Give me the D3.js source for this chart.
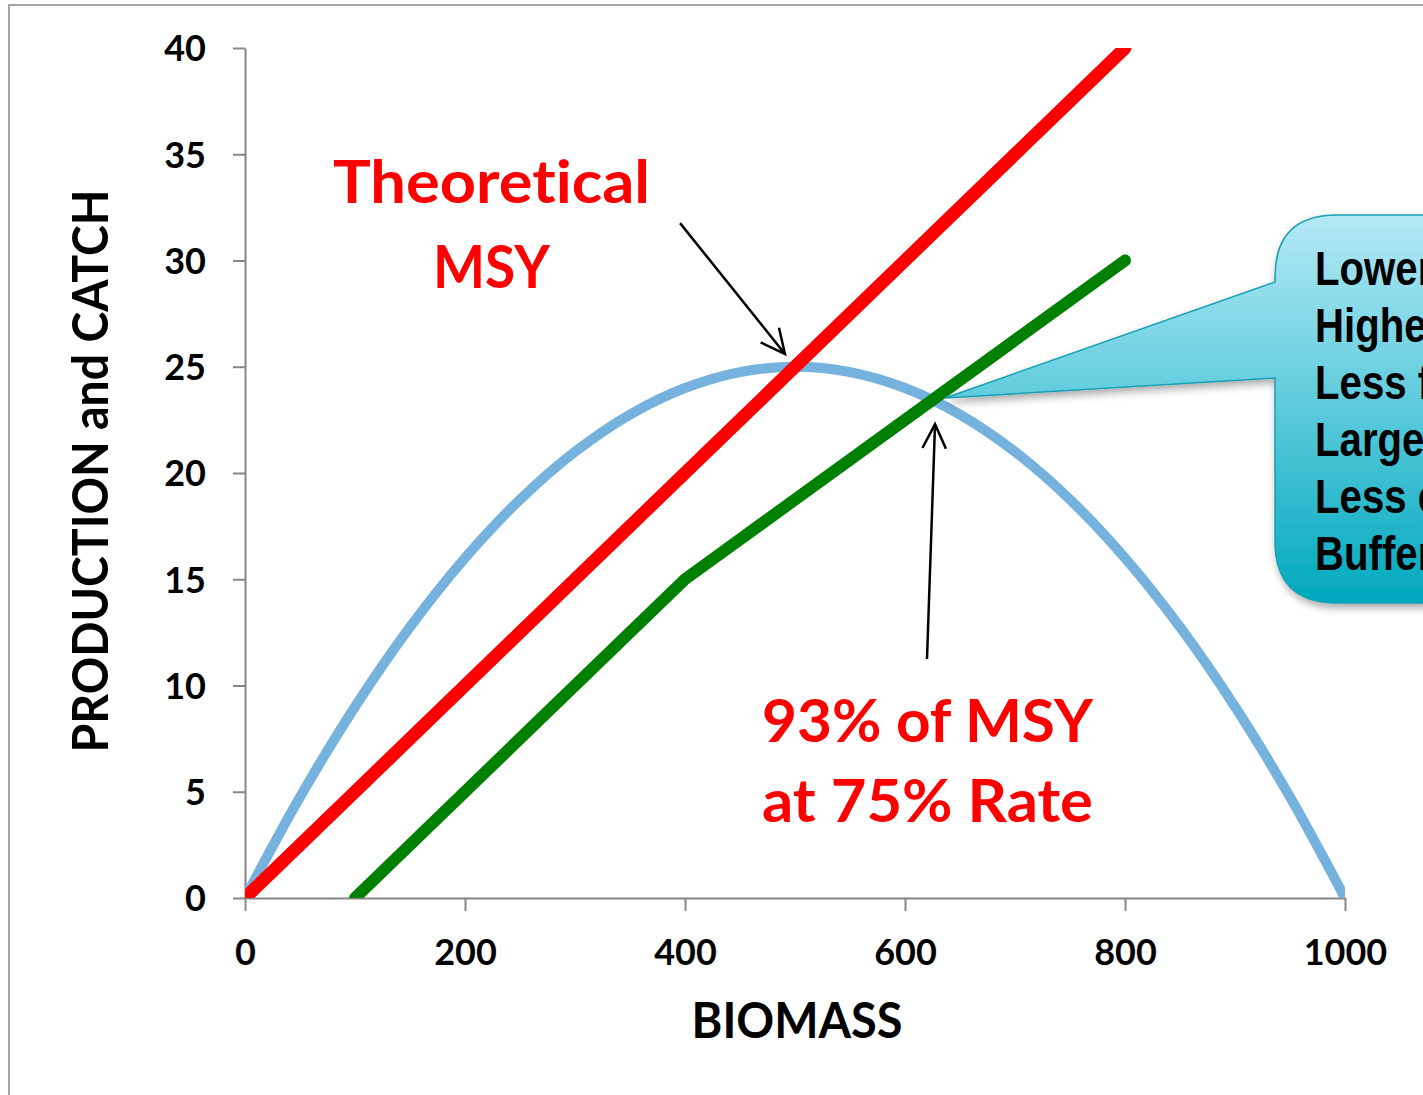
<!DOCTYPE html>
<html>
<head>
<meta charset="utf-8">
<script src="https://cdn.jsdelivr.net/npm/d3@7"></script>
<style>
  html, body { margin: 0; padding: 0; background: #fff; overflow: hidden; }
  svg { display: block; }
  text { font-variant-ligatures: none; font-feature-settings: "liga" 0, "clig" 0; }
</style>
</head>
<body>
<svg id="chart" width="1423" height="1095"></svg>
<script>
// ---------- data ----------
const biomass = [0, 50, 100, 150, 200, 250, 300, 350, 400, 450, 500, 550, 600, 650, 700, 750, 800, 850, 900, 950, 1000];
const production = [0, 4.75, 9, 12.75, 16, 18.75, 21, 22.75, 24, 24.75, 25, 24.75, 24, 22.75, 21, 18.75, 16, 12.75, 9, 4.75, 0];
const msyCatchB = [0, 800];
const msyCatch = [0, 40];
const ruleCatchB = [100, 400, 800];
const ruleCatch = [0, 15, 30];
const xTicks = [0, 200, 400, 600, 800, 1000];
const yTicks = [0, 5, 10, 15, 20, 25, 30, 35, 40];
const xTitle = "BIOMASS";
const yTitle = "PRODUCTION and CATCH";
const label1 = ["Theoretical", "MSY"];
const label2 = ["93% of MSY", "at 75% Rate"];
const calloutLines = ["Lower", "Higher", "Less f", "Large", "Less e", "Buffer"];

// ---------- layout ----------
const svg = d3.select("#chart");
const x = d3.scaleLinear().domain([0, 1000]).range([245, 1345]);
const y = d3.scaleLinear().domain([0, 40]).range([898, 48]);
const font = "Lato, 'Open Sans', sans-serif";

// outer border
svg.append("rect").attr("x", 9).attr("y", 5).attr("width", 1600).attr("height", 1300)
  .attr("fill", "none").attr("stroke", "#a6a6a6").attr("stroke-width", 2);

const defs = svg.append("defs");
defs.append("clipPath").attr("id", "plotClip").append("rect")
  .attr("x", x(0)).attr("y", y(40)).attr("width", x(1000) - x(0)).attr("height", y(0) - y(40));
defs.append("clipPath").attr("id", "plotClipG").append("rect")
  .attr("x", x(0)).attr("y", 0).attr("width", 1200).attr("height", y(0));

const grad = defs.append("linearGradient").attr("id", "callGrad")
  .attr("gradientUnits", "userSpaceOnUse").attr("x1", 0).attr("y1", 215).attr("x2", 0).attr("y2", 603);
grad.append("stop").attr("offset", 0).attr("stop-color", "#b4e9f5");
grad.append("stop").attr("offset", 0.5).attr("stop-color", "#5bcadc");
grad.append("stop").attr("offset", 1).attr("stop-color", "#00a8be");

const filt = defs.append("filter").attr("id", "shadow").attr("x", "-20%").attr("y", "-20%").attr("width", "150%").attr("height", "150%");
filt.append("feDropShadow").attr("dx", 2).attr("dy", 4).attr("stdDeviation", 4)
  .attr("flood-color", "#000").attr("flood-opacity", 0.35);

// axes
const axisColor = "#868686";
const yAxis = svg.append("g").attr("transform", `translate(${x(0)},0)`)
  .call(d3.axisLeft(y).tickValues(yTicks).tickFormat(d3.format("d")).tickSize(12).tickPadding(27).tickSizeOuter(0));
const xAxis = svg.append("g").attr("transform", `translate(0,${y(0)})`)
  .call(d3.axisBottom(x).tickValues(xTicks).tickFormat(d3.format("d")).tickSize(13).tickSizeOuter(0));
[xAxis, yAxis].forEach(g => {
  g.select(".domain").attr("stroke", axisColor).attr("stroke-width", 2);
  g.selectAll(".tick line").attr("stroke", axisColor).attr("stroke-width", 2);
  g.selectAll("text").attr("fill", "#000").style("font-family", font)
    .style("font-weight", "bold").style("font-size", "36px");
});
yAxis.selectAll("text").attr("dy", "0.36em");
xAxis.selectAll("text").attr("y", 67).attr("dy", 0);

// axis titles
svg.append("text").attr("x", 797).attr("y", 1038).attr("text-anchor", "middle")
  .attr("textLength", 211).attr("lengthAdjust", "spacingAndGlyphs")
  .style("font-family", font).style("font-weight", "bold").style("font-size", "49px")
  .text(xTitle);
svg.append("text").attr("transform", "translate(108,471) rotate(-90)").attr("text-anchor", "middle")
  .attr("textLength", 563).attr("lengthAdjust", "spacingAndGlyphs")
  .style("font-family", font).style("font-weight", "bold").style("font-size", "50px")
  .text(yTitle);

// series
const plot = svg.append("g").attr("clip-path", "url(#plotClip)");
plot.append("path").datum(d3.zip(biomass, production))
  .attr("d", d3.line().x(d => x(d[0])).y(d => y(d[1])).curve(d3.curveCatmullRom))
  .attr("fill", "none")
  .attr("stroke", "#75b2de").attr("stroke-width", 10).attr("stroke-linejoin", "round");
const straight = d3.line().x(d => x(d[0])).y(d => y(d[1]));
plot.append("path").datum(d3.zip(msyCatchB, msyCatch))
  .attr("d", straight).attr("fill", "none")
  .attr("stroke", "#ff0000").attr("stroke-width", 13).attr("stroke-linecap", "round");
svg.append("path").datum(d3.zip(ruleCatchB, ruleCatch))
  .attr("clip-path", "url(#plotClipG)")
  .attr("d", straight).attr("fill", "none")
  .attr("stroke", "#008000").attr("stroke-width", 12).attr("stroke-linecap", "round").attr("stroke-linejoin", "round");

// arrows
function arrow(x0, y0, x1, y1) {
  const L = 27, h = 0.45;
  const X0 = x(x0), Y0 = y(y0), X1 = x(x1), Y1 = y(y1);
  const ang = Math.atan2(Y1 - Y0, X1 - X0);
  const d = `M${X0},${Y0}L${X1},${Y1}` +
    `M${X1 - L * Math.cos(ang - h)},${Y1 - L * Math.sin(ang - h)}L${X1},${Y1}` +
    `L${X1 - L * Math.cos(ang + h)},${Y1 - L * Math.sin(ang + h)}`;
  svg.append("path").attr("d", d).attr("fill", "none").attr("stroke", "#000")
    .attr("stroke-width", 2.5).attr("stroke-linejoin", "miter");
}
arrow(395.5, 31.76, 490.9, 25.6);
arrow(620, 11.25, 627.3, 22.3);

// red labels
const redStyle = t => t.attr("fill", "#ff0000").style("font-family", font)
  .style("font-weight", "bold").style("font-size", "60px").attr("text-anchor", "middle")
  .attr("lengthAdjust", "spacingAndGlyphs");
svg.append("text").attr("x", 491.5).attr("y", 203).attr("textLength", 317).call(redStyle).text(label1[0]);
svg.append("text").attr("x", 491.5).attr("y", 288).attr("textLength", 117).call(redStyle).text(label1[1]);
svg.append("text").attr("x", 927.5).attr("y", 742).attr("textLength", 331).call(redStyle).text(label2[0]);
svg.append("text").attr("x", 927.5).attr("y", 822).attr("textLength", 331).call(redStyle).text(label2[1]);

// callout
const bx = 1275, by = 215, bb = 603, br = 1700, r = 62;
const tipX = x(636.4), tipY = y(23.53);
const cp = `M${bx + r},${by} L${br},${by} L${br},${bb} L${bx + r},${bb} ` +
  `Q${bx},${bb} ${bx},${bb - r} L${bx},378 L${tipX},${tipY} L${bx},282 L${bx},${by + r} ` +
  `Q${bx},${by} ${bx + r},${by} Z`;
svg.append("path").attr("d", cp).attr("fill", "url(#callGrad)")
  .attr("stroke", "#17a0b2").attr("stroke-width", 1.5).attr("filter", "url(#shadow)");
const ct = svg.append("g").attr("transform", "translate(1315,0) scale(0.82,1)");
calloutLines.forEach((s, i) => {
  ct.append("text").attr("x", 0).attr("y", 285 + i * 57)
    .style("font-family", "'Liberation Sans', Arial, sans-serif").style("font-weight", "bold")
    .style("font-size", "49px").attr("fill", "#000").text(s);
});
</script>
</body>
</html>
